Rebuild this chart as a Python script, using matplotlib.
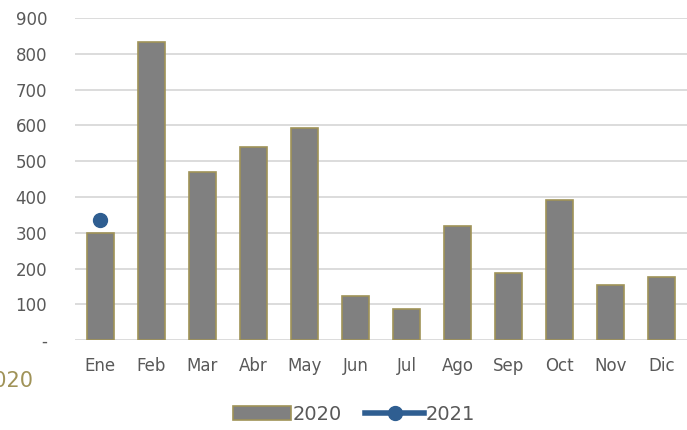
import matplotlib
matplotlib.use('Agg')
import matplotlib.pyplot as plt
import numpy as np

# Meses y valores
meses = ['Ene', 'Feb', 'Mar', 'Abr', 'May', 'Jun', 'Jul', 'Ago', 'Sep', 'Oct', 'Nov', 'Dic']
valores_2020 = [298, 834, 470, 540, 593, 123, 86, 318, 188, 391, 153, 176]
valores_2021 = [335]
yticks = [0, 100, 200, 300, 400, 500, 600, 700, 800, 900]
ytick_labels = ['-', '100', '200', '300', '400', '500', '600', '700', '800', '900']

plt.rcParams['font.family'] = ['DejaVu Sans']

fig = plt.figure(figsize=(6.87, 4.30), dpi=100)
ax = fig.add_axes([0.109, 0.209, 0.891, 0.749])

x = np.arange(len(meses))
barras = ax.bar(x, valores_2020, width=0.53, color='#808080', edgecolor='#A09358',
                linewidth=1.2, label='2020', zorder=2)
linea, = ax.plot(np.arange(len(valores_2021)), valores_2021, color='#2F5E91', marker='o',
                 markersize=10, linewidth=4, label='2021', zorder=3)

ax.set_xlim(-0.5, len(meses) - 0.5)
ax.set_ylim(0, 900)
ax.set_yticks(yticks)
ax.set_yticklabels(ytick_labels)
ax.set_xticks(x)
ax.set_xticklabels(meses)
ax.grid(axis='y', color='#D9D9D9', linewidth=1.3, zorder=0)
for s in ax.spines.values():
    s.set_visible(False)
ax.tick_params(axis='both', length=0, labelsize=12, colors='#595959')
ax.tick_params(axis='x', pad=12)
ax.tick_params(axis='y', pad=20)

fig.text(-0.028, 0.115, '2020', color='#A09358', fontsize=15, va='center', ha='left')

fig.legend([barras, linea], ['2020', '2021'], loc='center', bbox_to_anchor=(0.515, 0.037),
           ncol=2, frameon=False, fontsize=14, labelcolor='#595959', handlelength=3.0,
           columnspacing=1.2, handletextpad=0.1)

fig.savefig('out.png', dpi=100)
